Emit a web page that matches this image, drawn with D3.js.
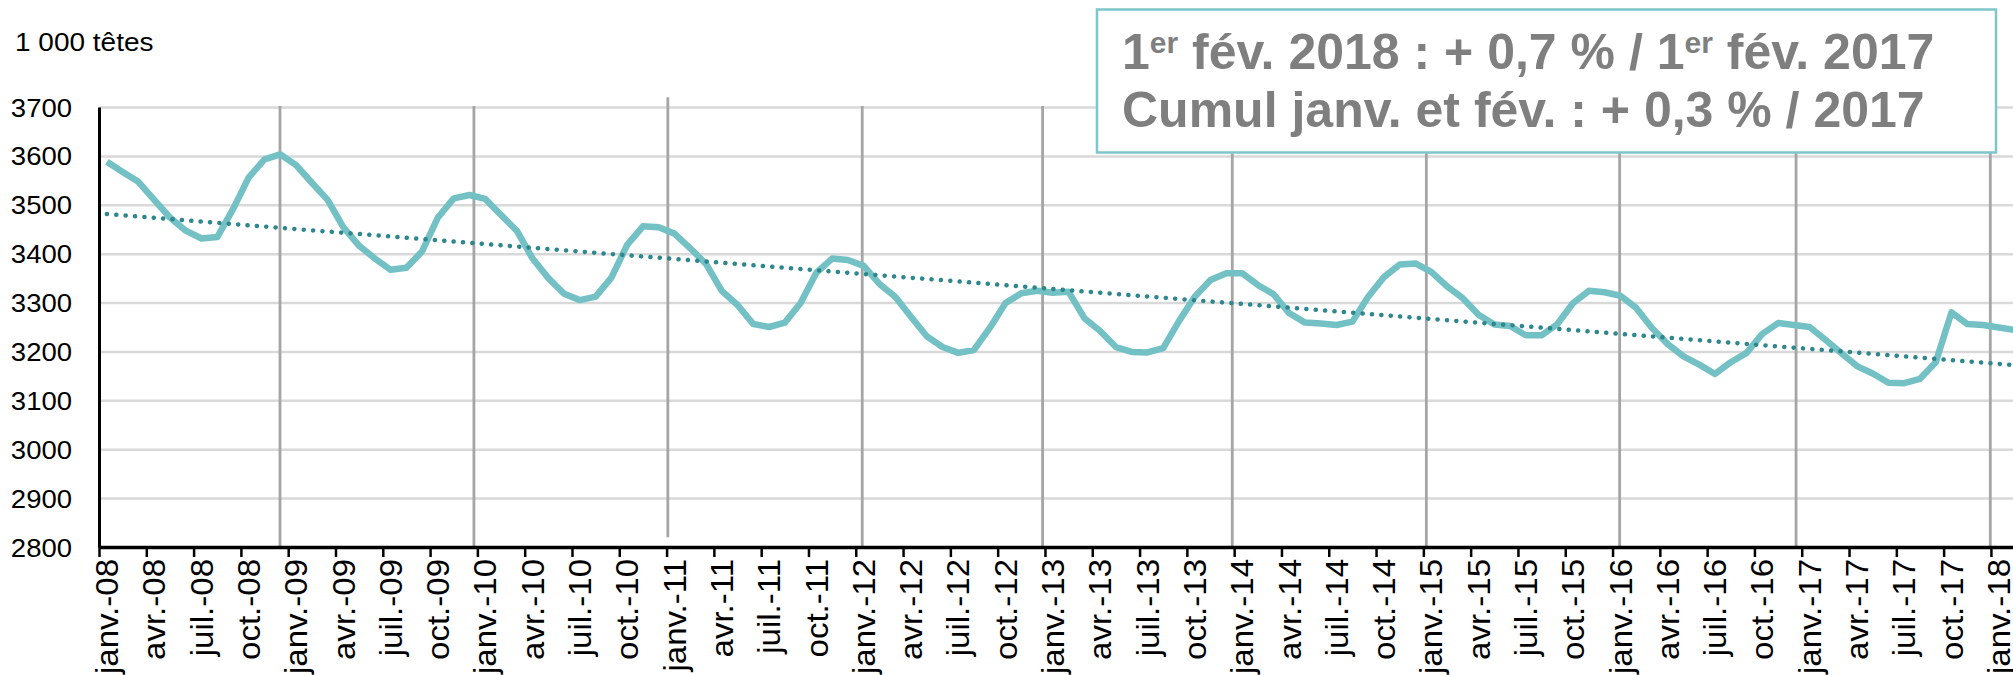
<!DOCTYPE html>
<html>
<head>
<meta charset="utf-8">
<script src="https://cdn.jsdelivr.net/npm/d3@7"></script>
<style>
  body { margin: 0; background: #fff; }
  svg { display: block; font-family: "Liberation Sans", Arial, Helvetica, sans-serif; }
</style>
</head>
<body>
<div id="chart"></div>
<script>
// Cattle herd, monthly, in 1 000 head (janv. 2008 .. fév. 2018)
const y2008 = [3588, 3567, 3547, 3510, 3474, 3447, 3431, 3434, 3491, 3556, 3593, 3603];
const y2009 = [3581, 3545, 3510, 3454, 3416, 3390, 3367, 3371, 3405, 3474, 3513, 3520];
const y2010 = [3512, 3479, 3447, 3390, 3350, 3318, 3305, 3312, 3351, 3418, 3456, 3454];
const y2011 = [3441, 3411, 3379, 3324, 3295, 3256, 3250, 3259, 3299, 3361, 3390, 3387];
const y2012 = [3375, 3338, 3312, 3271, 3231, 3209, 3197, 3203, 3248, 3299, 3319, 3324];
const y2013 = [3320, 3322, 3268, 3242, 3209, 3199, 3198, 3207, 3262, 3312, 3346, 3360];
const y2014 = [3360, 3336, 3317, 3278, 3259, 3257, 3254, 3261, 3312, 3352, 3378, 3380];
const y2015 = [3363, 3333, 3309, 3275, 3255, 3252, 3233, 3233, 3256, 3299, 3324, 3321];
const y2016 = [3314, 3289, 3248, 3215, 3190, 3173, 3154, 3178, 3197, 3236, 3258, 3254];
const y2017 = [3250, 3224, 3197, 3170, 3155, 3136, 3135, 3144, 3178, 3280, 3256, 3254];
const y2018 = [3249, 3244];

// linear trend as drawn on the original (value at first and last month)
const trendMonths = [0, 121];
const trendValues = [3481, 3172];

// axis labels
const quarterNames = ["janv.", "avr.", "juil.", "oct."];
const yearSuffixes = ["08", "09", "10", "11", "12", "13", "14", "15", "16", "17", "18"];
const yTicks = [2800, 2900, 3000, 3100, 3200, 3300, 3400, 3500, 3600, 3700];
const unitLabel = "1 000 têtes";

// hand-drawn year separators (month position, top value, bottom value)
const separatorMonths = [11.48, 23.78, 36.08, 48.41, 59.85, 71.88, 84.19, 96.45, 107.64, 119.96];
const separatorTops   = [3702, 3702, 3720, 3702, 3702, 3702, 3702, 3702, 3702, 3702];
const separatorBottoms = [2800, 2800, 2820, 2800, 2800, 2800, 2800, 2800, 2800, 2800];

// annotation box, parts flagged as superscript
const noteLine1 = [["1", false], ["er", true], [" fév. 2018 : + 0,7 % / 1", false], ["er", true], [" fév. 2017", false]];
const noteLine2 = [["Cumul janv. et fév. : + 0,3 % / 2017", false]];

const herd = [].concat(y2008, y2009, y2010, y2011, y2012, y2013, y2014, y2015, y2016, y2017, y2018);

const W = 2013, H = 675;
const M = { left: 99, right: 0, top: 107, bottom: 547 };
const STRETCH = 1.1; // axis text in the source is a bit wider than Arial

const svg = d3.select("#chart").append("svg")
  .attr("width", W).attr("height", H)
  .attr("viewBox", `0 0 ${W} ${H}`);

const x = d3.scaleLinear().domain([0, 121.4]).range([M.left, W - M.right]);
const y = d3.scaleLinear().domain([2800, 3700]).range([M.bottom, M.top]);

// horizontal gridlines
svg.append("g")
  .attr("transform", `translate(${M.left},0)`)
  .call(d3.axisLeft(y).tickValues(yTicks.slice(1)).tickSize(-(W - M.left)).tickFormat(""))
  .call(g => g.select(".domain").remove())
  .call(g => g.selectAll("line").attr("stroke", "#d9d9d9").attr("stroke-width", 2.5));

// year separators
svg.append("g").selectAll("line")
  .data(separatorMonths)
  .join("line")
  .attr("x1", d => x(d)).attr("x2", d => x(d))
  .attr("y1", (d, i) => y(separatorTops[i]))
  .attr("y2", (d, i) => y(separatorBottoms[i]))
  .attr("stroke", "#a5a5a5")
  .attr("stroke-width", 2.8);

// y axis labels
const gy = svg.append("g")
  .attr("transform", `translate(${M.left},0)`)
  .call(d3.axisLeft(y).tickValues(yTicks).tickSize(0).tickFormat(d3.format("d")));
gy.select(".domain").attr("stroke", "#000").attr("stroke-width", 3);
gy.selectAll("text")
  .attr("x", -27 / STRETCH)
  .attr("dy", "0.36em")
  .attr("transform", `scale(${STRETCH},1)`)
  .attr("font-size", 25)
  .attr("font-family", "\"Liberation Sans\", Arial, sans-serif")
  .attr("fill", "#000");

// x axis: ticks every quarter
const tickMonths = d3.range(0, 121, 3);
const gx = svg.append("g")
  .attr("transform", `translate(0,${M.bottom})`)
  .call(d3.axisBottom(x).tickValues(tickMonths).tickSize(10).tickSizeOuter(0).tickFormat(""));
gx.select(".domain").attr("stroke", "#000").attr("stroke-width", 3.5);
gx.selectAll(".tick line").attr("stroke", "#000").attr("stroke-width", 2.5);

// x labels, centred on the month, rotated
svg.append("g").selectAll("text")
  .data(tickMonths)
  .join("text")
  .attr("transform", d => `translate(${x(d + 0.5)},${M.bottom + 12}) rotate(-90) scale(1.065,1)`)
  .attr("dy", "0.36em")
  .attr("text-anchor", "end")
  .attr("font-size", 31)
  .attr("fill", "#000")
  .text(d => `${quarterNames[(d / 3) % 4]}-${yearSuffixes[Math.floor(d / 12)]}`);

// unit label
svg.append("text")
  .attr("transform", `translate(15,51) scale(1.12,1)`)
  .attr("font-size", 25)
  .attr("fill", "#000")
  .text(unitLabel);

// main series
const line = d3.line()
  .x((d, i) => x(i + 0.5))
  .y(d => y(d));

svg.append("path")
  .datum(herd)
  .attr("fill", "none")
  .attr("stroke", "#73c1c5")
  .attr("stroke-width", 6.5)
  .attr("stroke-linejoin", "round")
  .attr("d", line);

// dotted trend
svg.append("path")
  .datum(trendValues)
  .attr("fill", "none")
  .attr("stroke", "#2e878c")
  .attr("stroke-width", 4.5)
  .attr("stroke-linecap", "round")
  .attr("stroke-dasharray", "0.1 9.3")
  .attr("d", d3.line().x((d, i) => x(trendMonths[i] + 0.5)).y(d => y(d)));

// annotation box
const box = svg.append("g");
box.append("rect")
  .attr("x", 1097).attr("y", 9.5)
  .attr("width", 899).attr("height", 143)
  .attr("fill", "#fff")
  .attr("stroke", "#7ec6ca")
  .attr("stroke-width", 2.5);

function noteText(parts, baseline) {
  const t = box.append("text")
    .attr("x", 1122).attr("y", baseline)
    .attr("font-size", 50)
    .attr("font-weight", "bold")
    .attr("fill", "#7f7f7f");
  let raised = false;
  parts.forEach(([s, sup]) => {
    const dy = sup && !raised ? -16 : (!sup && raised ? 16 : 0);
    raised = sup;
    t.append("tspan")
      .attr("dy", dy)
      .attr("font-size", sup ? 30 : 50)
      .text(s);
  });
}
noteText(noteLine1, 69);
noteText(noteLine2, 127);
</script>
</body>
</html>
